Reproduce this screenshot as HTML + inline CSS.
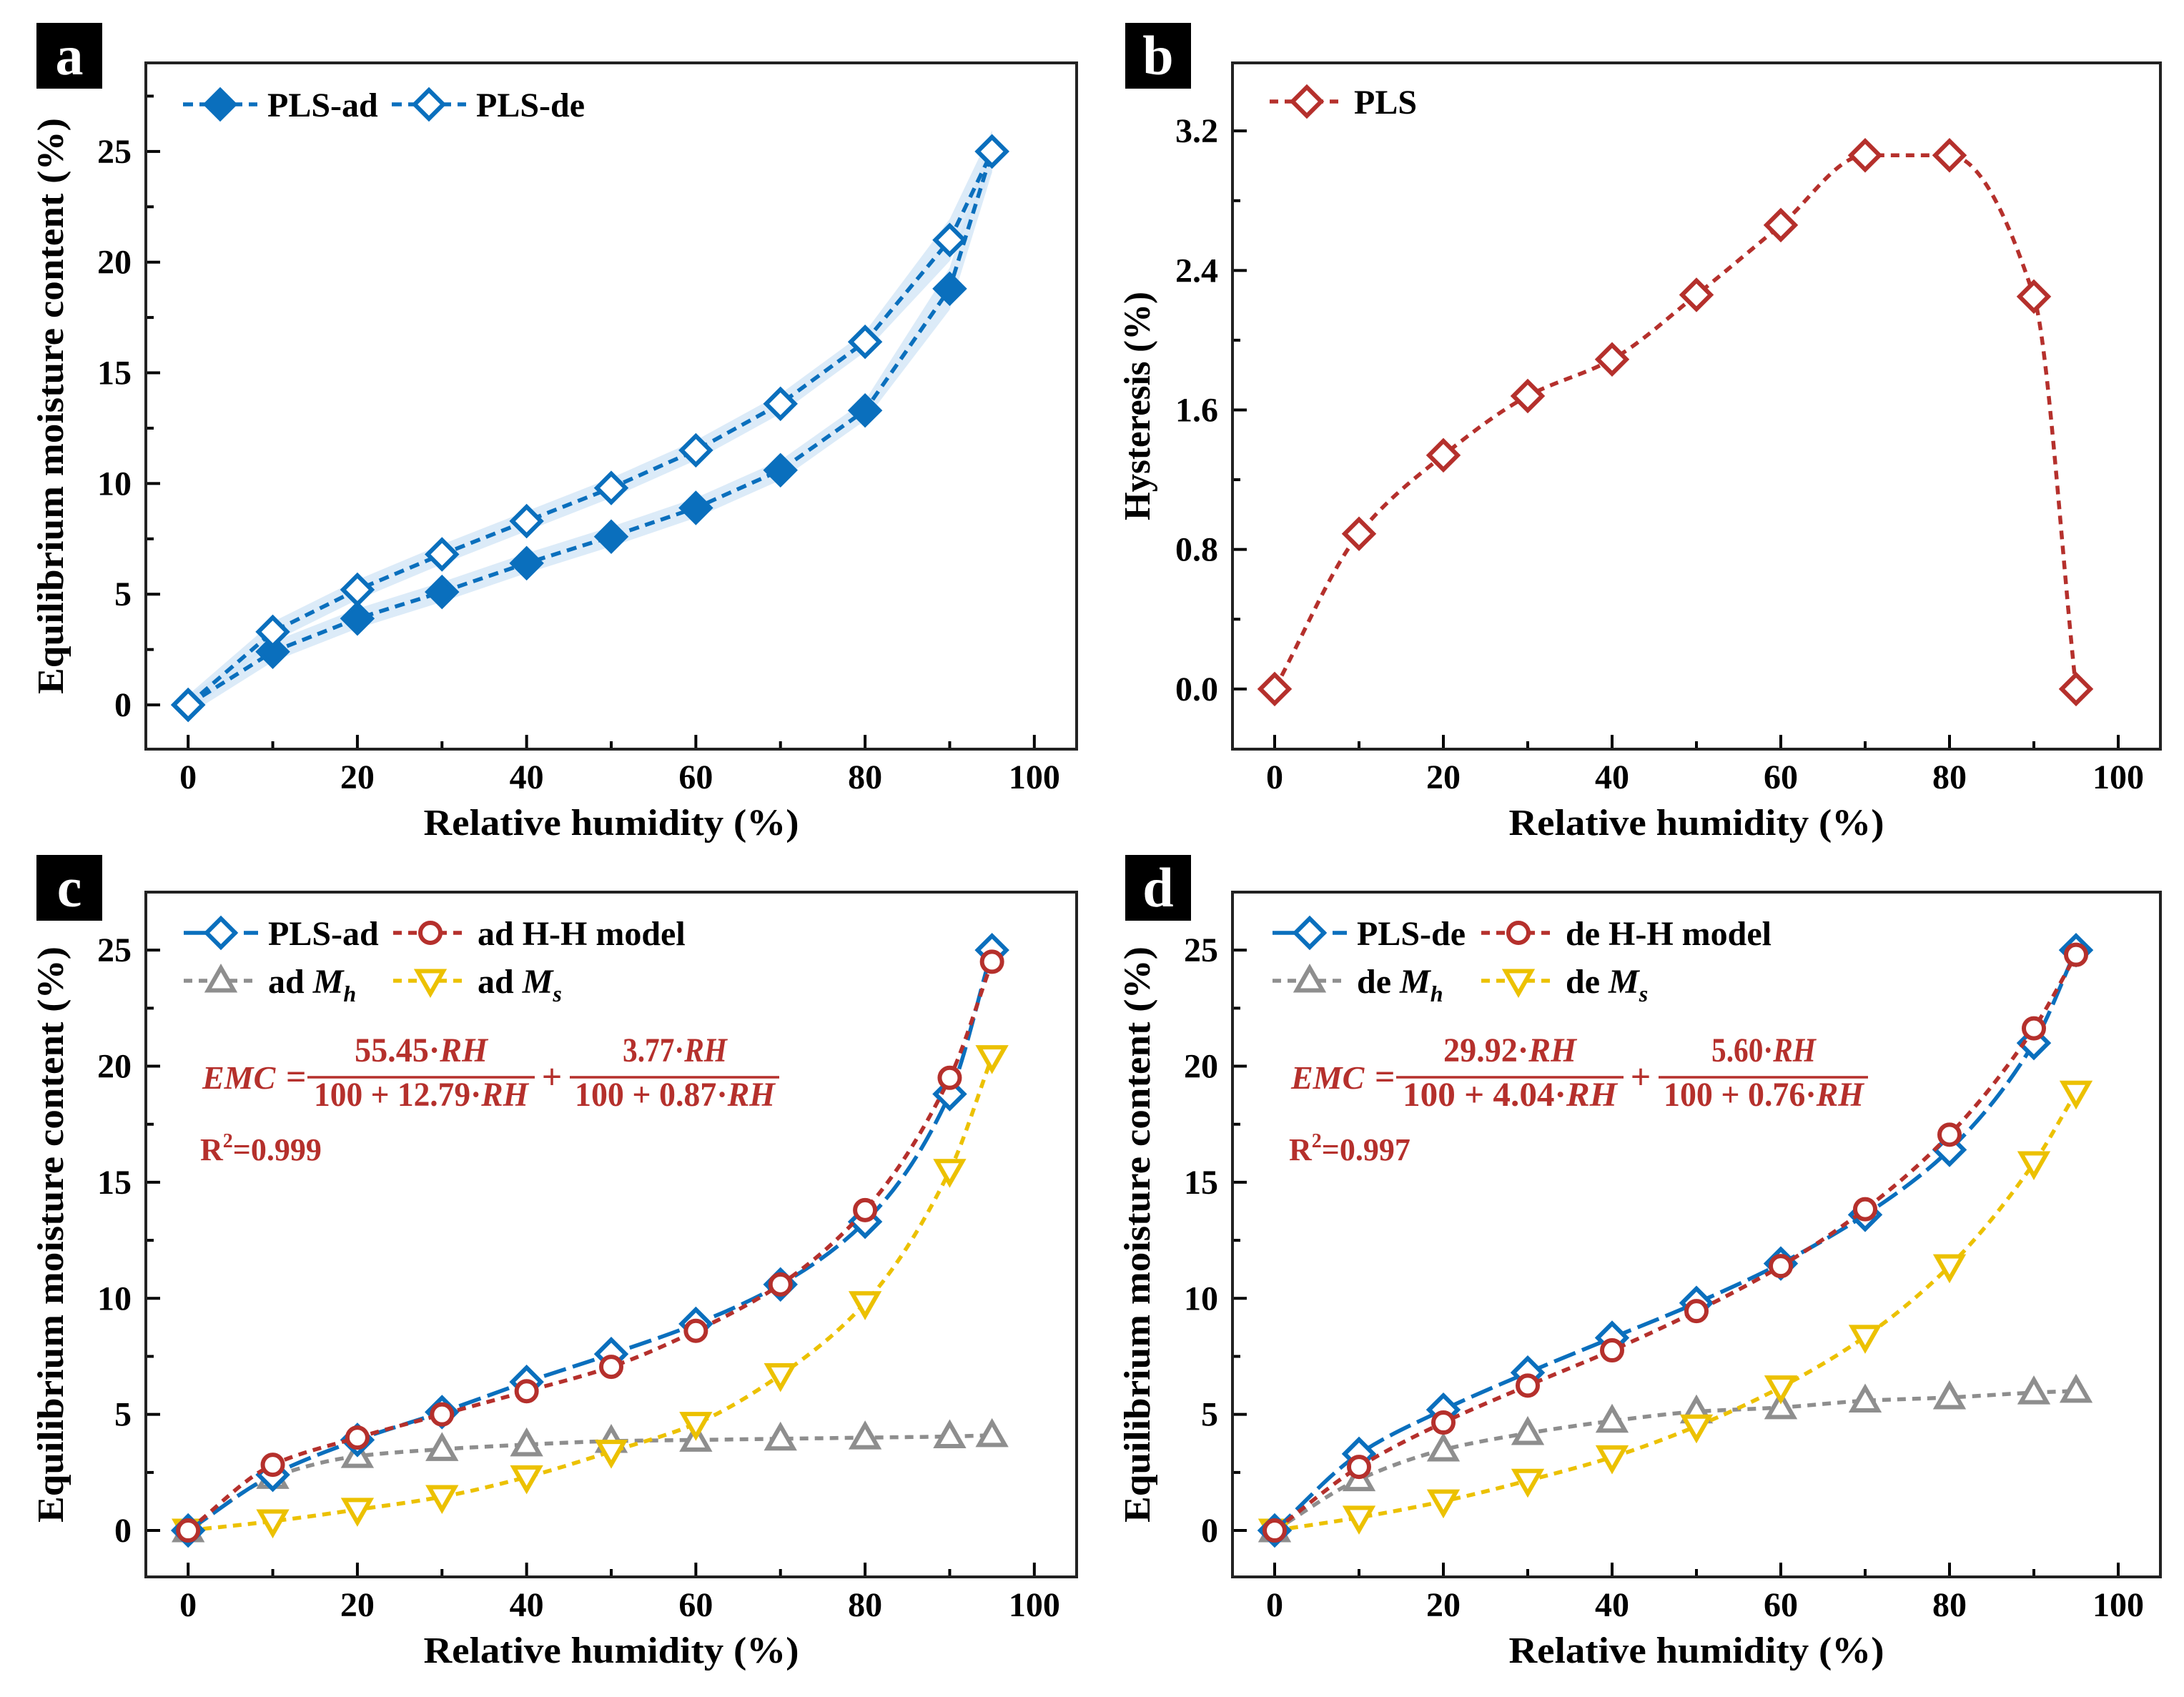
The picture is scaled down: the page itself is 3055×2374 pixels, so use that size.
<!DOCTYPE html>
<html><head><meta charset="utf-8"><style>
html,body{margin:0;padding:0;background:#fff;}
svg{display:block;}
text{font-family:"Liberation Serif",serif;font-weight:bold;}
</style></head><body>
<svg id="fig" width="3055" height="2374" viewBox="0 0 3055 2374" xmlns="http://www.w3.org/2000/svg"></svg>
<script>
const RH = [0,10,20,30,40,50,60,70,80,90,95];
const adEMC = [0,2.4,3.9,5.1,6.4,7.6,8.9,10.6,13.3,18.8,25.0];
const deEMC = [0,3.3,5.2,6.8,8.3,9.8,11.5,13.6,16.4,21.0,25.0];
const hysteresis = [0,0.89,1.34,1.68,1.89,2.26,2.66,3.06,3.06,2.25,0];
const adHH = [0,2.83,4.0,5.0,6.0,7.05,8.6,10.6,13.8,19.5,24.5];
const adMh = [0,2.3,3.2,3.5,3.7,3.85,3.9,3.95,4.0,4.05,4.1];
const adMs = [0,0.4,0.9,1.45,2.3,3.4,4.6,6.7,9.8,15.5,20.4];
const deHH = [0,2.74,4.65,6.24,7.76,9.45,11.39,13.84,17.05,21.63,24.8];
const deMh = [0,2.2,3.48,4.19,4.72,5.12,5.3,5.59,5.73,5.94,6.01];
const deMs = [0,0.56,1.26,2.15,3.16,4.49,6.17,8.35,11.39,15.83,18.87];
const xTicks = [0,20,40,60,80,100];
const emcTicks = [0,5,10,15,20,25];
const hysTicks = [0,0.8,1.6,2.4,3.2];
const hysTickLabels = ["0.0","0.8","1.6","2.4","3.2"];

const NS="http://www.w3.org/2000/svg";
const svg=document.getElementById('fig');
const BLUE="#0a6fbd", RED="#b5302c", GRAY="#8e8e8e", YEL="#ecc100", BAND="#d3e6f6";
function mk(tag,attrs,parent){const e=document.createElementNS(NS,tag);for(const k in attrs)e.setAttribute(k,attrs[k]);(parent||svg).appendChild(e);return e;}

function panel(cfg){
  const g=mk('g',{});
  
  
  const sx=v=>cfg.L+(v-cfg.xd[0])/(cfg.xd[1]-cfg.xd[0])*(cfg.R-cfg.L);
  const sy=v=>cfg.B-(v-cfg.yd[0])/(cfg.yd[1]-cfg.yd[0])*(cfg.B-cfg.T);
  cfg.sx=sx;cfg.sy=sy;cfg.g=g;
  for(let v=0;v<=100;v+=10){const maj=v%20===0;const x=sx(v);
    const t=mk('line',{x1:x,x2:x,y1:cfg.B,y2:cfg.B-(maj?20:11),stroke:'#000','stroke-width':4},g);
    }
  xTicks.forEach(v=>{const t=mk('text',{x:sx(v),y:cfg.B+55,'font-size':48,'text-anchor':'middle'},g);t.textContent=v;
    });
  const step=cfg.yt[1]-cfg.yt[0];
  for(let v=cfg.yt[0];v<=cfg.yd[1];v+=step/2){const maj=Math.abs(Math.round(v/step)*step-v)<1e-6;const y=sy(v);
    if(y<cfg.T+2)continue;
    const t=mk('line',{x1:cfg.L,x2:cfg.L+(maj?20:11),y1:y,y2:y,stroke:'#000','stroke-width':4},g);
    }
  cfg.yt.forEach((v,i)=>{const t=mk('text',{x:cfg.L-20,y:sy(v)+16,'font-size':48,'text-anchor':'end'},g);t.textContent=cfg.ytl?cfg.ytl[i]:v;
    });
  const f=mk('rect',{x:cfg.L,y:cfg.T,width:cfg.R-cfg.L,height:cfg.B-cfg.T,fill:'none',stroke:'#222','stroke-width':4},g);
  
  const xt=mk('text',{x:(cfg.L+cfg.R)/2,y:cfg.B+120,'font-size':52,'text-anchor':'middle',textLength:525,lengthAdjust:'spacingAndGlyphs'},g);
  xt.textContent='Relative humidity (%)';
  const ycx=cfg.L-116, ycy=(cfg.T+cfg.B)/2;
  const yt=mk('text',{x:ycx,y:ycy,'font-size':52,'text-anchor':'middle',transform:`rotate(-90 ${ycx} ${ycy})`,textLength:cfg.ytitleLen,lengthAdjust:'spacingAndGlyphs'},g);
  yt.textContent=cfg.ytitle;
  const lb=mk('rect',{x:cfg.lab[0],y:cfg.lab[1],width:92,height:92,fill:'#000'},g);
  
  const lt=mk('text',{x:cfg.lab[0]+46,y:cfg.lab[1]+72,'font-size':78,'text-anchor':'middle',fill:'#fff'},g);
  lt.textContent=cfg.letter;
  return cfg;
}
function spline(pts){
  const n=pts.length, d=[], m=new Array(n);
  for(let i=0;i<n-1;i++)d.push((pts[i+1][1]-pts[i][1])/(pts[i+1][0]-pts[i][0]));
  m[0]=d[0];m[n-1]=d[n-2];
  for(let i=1;i<n-1;i++){ if(d[i-1]*d[i]<=0)m[i]=0; else { const h0=pts[i][0]-pts[i-1][0],h1=pts[i+1][0]-pts[i][0]; const w1=2*h1+h0,w2=h1+2*h0; m[i]=(w1+w2)/(w1/d[i-1]+w2/d[i]); } }
  let s=`M${pts[0][0]},${pts[0][1]}`;
  for(let i=0;i<n-1;i++){const h=(pts[i+1][0]-pts[i][0])/3;
    s+=` C${pts[i][0]+h},${pts[i][1]+m[i]*h} ${pts[i+1][0]-h},${pts[i+1][1]-m[i+1]*h} ${pts[i+1][0]},${pts[i+1][1]}`;}
  return s;
}
function marker(g,type,x,y,color,filled,name){
  let e;
  if(type==='diamond'){const r=20;e=mk('polygon',{points:`${x},${y-r} ${x+r},${y} ${x},${y+r} ${x-r},${y}`,fill:filled?color:'#fff',stroke:color,'stroke-width':6},g);}
  else if(type==='circle'){e=mk('circle',{cx:x,cy:y,r:14,fill:'#fff',stroke:color,'stroke-width':6},g);}
  else if(type==='up'){const r=18;e=mk('polygon',{points:`${x},${y-r} ${x+r},${y+r*0.75} ${x-r},${y+r*0.75}`,fill:'#fff',stroke:color,'stroke-width':6},g);}
  else {const r=18;e=mk('polygon',{points:`${x},${y+r} ${x+r},${y-r*0.75} ${x-r},${y-r*0.75}`,fill:'#fff',stroke:color,'stroke-width':6},g);}
  
}
function series(cfg,ys,color,dash,mtype,filled,name,smooth){
  const pts=RH.map((x,i)=>[cfg.sx(x),cfg.sy(ys[i])]);
  const p=mk('path',{d:smooth?spline(pts):'M'+pts.map(q=>q.join(',')).join(' L'),fill:'none',stroke:color,'stroke-width':5.5,'stroke-dasharray':dash},cfg.g);
  
  pts.forEach(q=>marker(cfg.g,mtype,q[0],q[1],color,filled,name+'-point'));
}
function band(cfg,ys,name){
  const up=RH.map((x,i)=>[cfg.sx(x),cfg.sy(ys[i]+0.45+(x>=90?0.5:0))]);
  const lo=RH.map((x,i)=>[cfg.sx(x),cfg.sy(ys[i]-0.45-(x>=90?0.5:0))]).reverse();
  const p=mk('polygon',{points:up.concat(lo).map(q=>q.join(',')).join(' '),fill:BAND,opacity:0.8},cfg.g);
  
}
function legend(cfg,x,y,color,dash,mtype,filled,label,name,sub){
  const l=mk('line',{x1:x-52,x2:x+52,y1:y,y2:y,stroke:color,'stroke-width':5.5,'stroke-dasharray':dash},cfg.g);
  
  marker(cfg.g,mtype,x,y,color,filled,name+'-marker');
  const t=mk('text',{x:x+66,y:y+17,'font-size':48},cfg.g);
  
  if(sub){t.textContent=label+' ';const m=mk('tspan',{'font-style':'italic'},t);m.textContent='M';const s=mk('tspan',{'font-style':'italic','font-size':32,dy:12},t);s.textContent=sub;}
  else t.textContent=label;
}
function equation(cfg,ox,n1,d1,n2,d2,r2){
  const g=mk('g',{fill:RED},cfg.g);
  
  const y0=1507;
  const e=mk('text',{x:ox+79,y:y0+16,'font-size':46,'font-style':'italic'},g);e.textContent='EMC';
  const eq=mk('text',{x:ox+196,y:y0+16,'font-size':50},g);eq.textContent='=';
  mk('line',{x1:ox+226,x2:ox+544,y1:y0,y2:y0,stroke:RED,'stroke-width':3.5},g);
  mk('line',{x1:ox+593,x2:ox+886,y1:y0,y2:y0,stroke:RED,'stroke-width':3.5},g);
  const pl=mk('text',{x:ox+568,y:y0+16,'font-size':50,'text-anchor':'middle','font-weight':'normal'},g);pl.textContent='+';
  [[n1,ox+385,y0-22,186],[d1,ox+385,y0+40,300],[n2,ox+740,y0-22,146],[d2,ox+740,y0+40,280]].forEach(a=>{
    const t=mk('text',{x:a[1],y:a[2],'font-size':48,'text-anchor':'middle',textLength:a[3],lengthAdjust:'spacingAndGlyphs'},g);t.textContent=a[0];const r=mk('tspan',{'font-style':'italic'},t);r.textContent='RH';});
  const r=mk('text',{x:ox+76,y:1623,'font-size':44},g);r.textContent='R';const s=mk('tspan',{'font-size':28,dy:-18},r);s.textContent='2';const v=mk('tspan',{dy:18},r);v.textContent='=' + r2;
  
}

const EMCT='Equilibrium moisture content (%)';
const A=panel({name:'panel-a',letter:'a',L:204,R:1506,T:88,B:1048,xd:[-5,105],yd:[-2,29],yt:emcTicks,ytitle:EMCT,ytitleLen:806,lab:[51,32]});
band(A,deEMC,'de-error-band');band(A,adEMC,'ad-error-band');
series(A,adEMC,BLUE,'14 9','diamond',true,'pls-ad',false);
series(A,deEMC,BLUE,'14 9','diamond',false,'pls-de',false);
legend(A,308,146,BLUE,'14 9','diamond',true,'PLS-ad','legend-pls-ad');
legend(A,600,146,BLUE,'14 9','diamond',false,'PLS-de','legend-pls-de');

const Bp=panel({name:'panel-b',letter:'b',L:1724,R:3022,T:88,B:1048,xd:[-5,105],yd:[-0.345,3.59],yt:hysTicks,ytl:hysTickLabels,ytitle:'Hysteresis (%)',ytitleLen:320,lab:[1574,32]});
series(Bp,hysteresis,RED,'12 9','diamond',false,'hysteresis',true);
legend(Bp,1828,142,RED,'12 9','diamond',false,'PLS','legend-pls');

const C=panel({name:'panel-c',letter:'c',L:204,R:1506,T:1248,B:2206,xd:[-5,105],yd:[-2,27.5],yt:emcTicks,ytitle:EMCT,ytitleLen:806,lab:[51,1196]});
series(C,adMh,GRAY,'12 9','up',false,'ad-mh',true);
series(C,adMs,YEL,'12 9','down',false,'ad-ms',true);
series(C,adEMC,BLUE,'32 10','diamond',false,'pls-ad',true);
series(C,adHH,RED,'12 9','circle',false,'ad-hh-model',true);
legend(C,309,1305,BLUE,'32 10','diamond',false,'PLS-ad','legend-pls-ad');
legend(C,602,1305,RED,'12 9','circle',false,'ad H-H model','legend-ad-hh');
legend(C,309,1372,GRAY,'12 9','up',false,'ad','legend-ad-mh','h');
legend(C,602,1372,YEL,'12 9','down',false,'ad','legend-ad-ms','s');
equation(C,204,'55.45·','100 + 12.79·','3.77·','100 + 0.87·','0.999');

const D=panel({name:'panel-d',letter:'d',L:1724,R:3022,T:1248,B:2206,xd:[-5,105],yd:[-2,27.5],yt:emcTicks,ytitle:EMCT,ytitleLen:806,lab:[1574,1196]});
series(D,deMh,GRAY,'12 9','up',false,'de-mh',true);
series(D,deMs,YEL,'12 9','down',false,'de-ms',true);
series(D,deEMC,BLUE,'32 10','diamond',false,'pls-de',true);
series(D,deHH,RED,'12 9','circle',false,'de-hh-model',true);
legend(D,1832,1305,BLUE,'32 10','diamond',false,'PLS-de','legend-pls-de');
legend(D,2124,1305,RED,'12 9','circle',false,'de H-H model','legend-de-hh');
legend(D,1832,1372,GRAY,'12 9','up',false,'de','legend-de-mh','h');
legend(D,2124,1372,YEL,'12 9','down',false,'de','legend-de-ms','s');
equation(D,1727,'29.92·','100 + 4.04·','5.60·','100 + 0.76·','0.997');
</script>
</body></html>
